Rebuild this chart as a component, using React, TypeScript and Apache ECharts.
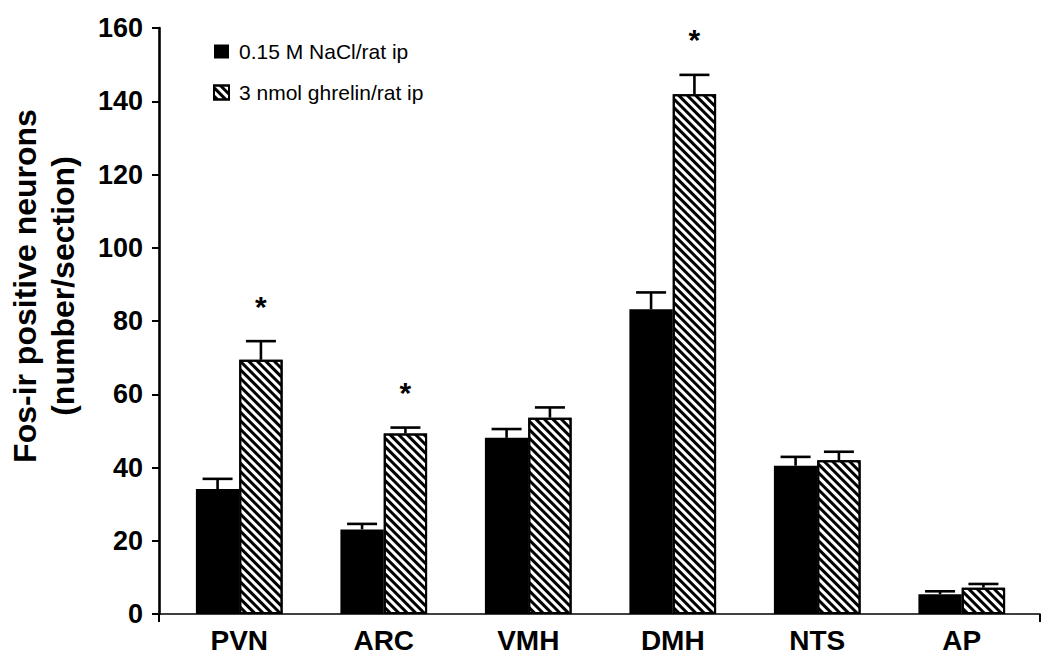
import React, { useEffect, useRef } from "react";
import * as echarts from "echarts";

const categories = ["PVN", "ARC", "VMH", "DMH", "NTS", "AP"];
const salineName = "0.15 M NaCl/rat ip";
const ghrelinName = "3 nmol ghrelin/rat ip";
const saline = [34.1, 23.1, 48.1, 83.2, 40.5, 5.4];
const salineErr = [2.8, 1.5, 2.4, 4.6, 2.4, 0.8];
const ghrelin = [69.4, 49.3, 53.6, 141.9, 42.0, 7.2];
const ghrelinErr = [5.1, 1.6, 2.8, 5.3, 2.3, 1.0];
const significant = [1, 1, 0, 1, 0, 0];
const yTicks = { min: 0, max: 160, interval: 20 };
const yTitle = "Fos-ir positive neurons\n(number/section)";

const FONT = '"Liberation Sans", Arial, Helvetica, sans-serif';
const CAT_GAP = 0.4;

export default function App() {
  const ref = useRef<HTMLDivElement>(null);
  useEffect(() => {
    if (!ref.current) return;
    const chart = echarts.init(ref.current, null, { renderer: "svg" });

    const errData: any[] = [];
    categories.forEach((_, i) => {
      errData.push([i, saline[i], salineErr[i], 0, 0]);
      errData.push([i, ghrelin[i], ghrelinErr[i], 1, significant[i]]);
    });

    const renderErr = (params: any, api: any) => {
      const ci = api.value(0);
      const v = api.value(1);
      const e = api.value(2);
      const s = api.value(3);
      const sig = api.value(4);
      const catW = api.size([1, 0])[0];
      const barW = (catW * (1 - CAT_GAP)) / 2;
      const cx = api.coord([ci, 0])[0] + (s === 0 ? -barW / 2 : barW / 2);
      const yTop = api.coord([ci, v])[1];
      const yCap = api.coord([ci, v + e])[1];
      const st = { stroke: "#000", lineWidth: 2.6 };
      const children: any[] = [
        { type: "line", shape: { x1: cx, y1: yTop, x2: cx, y2: yCap }, style: st },
        { type: "line", shape: { x1: cx - 15, y1: yCap, x2: cx + 15, y2: yCap }, style: st },
      ];
      if (sig) {
        children.push({
          type: "text",
          x: cx,
          y: yCap - 35,
          style: {
            text: "*",
            fontSize: 30,
            fontWeight: "bold",
            fontFamily: FONT,
            fill: "#000",
            align: "center",
            verticalAlign: "middle",
          },
        });
      }
      return { type: "group", children };
    };

    chart.setOption({
      animation: false,
      backgroundColor: "#fff",
      grid: [
        { left: 167, right: 16, top: 28, bottom: 47 },
        { left: 159, right: 10, top: 28, bottom: 47 },
      ],
      legend: {
        orient: "vertical",
        left: 208,
        top: 36,
        itemWidth: 15,
        itemHeight: 14,
        itemGap: 20,
        icon: "rect",
        data: [salineName, ghrelinName],
        textStyle: { fontSize: 21, color: "#000", fontFamily: FONT, padding: [0, 0, 0, 5] },
      },
      xAxis: [
        {
          type: "category",
          gridIndex: 0,
          data: categories,
          axisLine: { show: false },
          axisTick: { show: false },
          axisLabel: { fontSize: 28, fontWeight: "bold", color: "#000", margin: 12, fontFamily: FONT },
        },
        {
          type: "value",
          gridIndex: 1,
          min: 0,
          max: 1,
          interval: 1,
          axisLine: { show: true, lineStyle: { color: "#000", width: 1.6 } },
          axisTick: { show: true, length: 8, lineStyle: { color: "#000", width: 2 } },
          axisLabel: { show: false },
          splitLine: { show: false },
        },
      ],
      yAxis: [
        { type: "value", gridIndex: 0, ...yTicks, show: false },
        {
          type: "value",
          gridIndex: 1,
          ...yTicks,
          axisLine: { show: true, lineStyle: { color: "#000", width: 2.6 } },
          axisTick: { show: true, length: 7, lineStyle: { color: "#000", width: 2 } },
          axisLabel: { fontSize: 27, fontWeight: "bold", color: "#000", margin: 16, fontFamily: FONT },
          splitLine: { show: false },
        },
      ],
      graphic: [
        {
          type: "text",
          x: 44,
          y: 286,
          rotation: Math.PI / 2,
          style: {
            text: yTitle,
            fontSize: 32,
            fontWeight: "bold",
            fontFamily: FONT,
            lineHeight: 38,
            fill: "#000",
            align: "center",
            verticalAlign: "middle",
          },
        },
      ],
      series: [
        {
          name: salineName,
          type: "bar",
          xAxisIndex: 0,
          yAxisIndex: 0,
          data: saline,
          barGap: "0%",
          barCategoryGap: "40%",
          itemStyle: { color: "#000" },
        },
        {
          name: ghrelinName,
          type: "bar",
          xAxisIndex: 0,
          yAxisIndex: 0,
          data: ghrelin,
          barGap: "0%",
          barCategoryGap: "40%",
          itemStyle: {
            color: "#fff",
            borderColor: "#000",
            borderWidth: 2,
            decal: {
              symbol: "rect",
              symbolSize: 1,
              color: "#000",
              dashArrayX: [1, 0],
              dashArrayY: [2.5, 2.5],
              rotation: Math.PI / 4,
            },
          },
        },
        {
          type: "custom",
          xAxisIndex: 0,
          yAxisIndex: 0,
          data: errData,
          encode: { x: 0, y: 1 },
          renderItem: renderErr,
          clip: false,
          silent: true,
          z: 5,
        },
      ],
    });
    return () => chart.dispose();
  }, []);
  return (
    <div
      ref={ref}
      style={{ position: "fixed", left: 0, top: 0, width: 1050, height: 661 }}
    />
  );
}
